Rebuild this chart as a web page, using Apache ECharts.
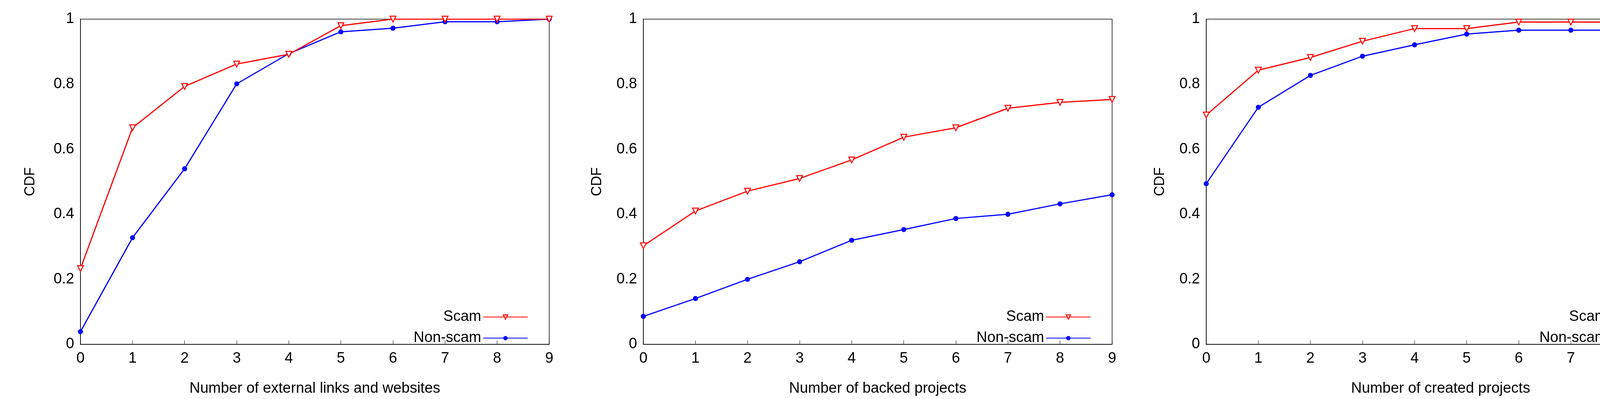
<!DOCTYPE html>
<html><head><meta charset="utf-8">
<script src="https://cdn.jsdelivr.net/npm/echarts@6/dist/echarts.min.js"></script>
<style>html,body{margin:0;padding:0;background:#fff}#c{width:4317px;height:1022px}</style>
</head><body><div id="c"></div>
<script>
const xCats = ['0','1','2','3','4','5','6','7','8','9'];
const yTicks = [0, 0.2, 0.4, 0.6, 0.8, 1];
const xTitles = ['Number of external links and websites','Number of backed projects','Number of created projects'];
const scam1 = [0.233,0.666,0.793,0.862,0.892,0.980,1,1,1,1];
const nonscam1 = [0.039,0.328,0.540,0.801,0.894,0.961,0.972,0.992,0.992,1];
const scam2 = [0.303,0.410,0.471,0.510,0.567,0.637,0.666,0.726,0.744,0.753];
const nonscam2 = [0.086,0.141,0.200,0.254,0.320,0.353,0.387,0.400,0.432,0.460];
const scam3 = [0.705,0.843,0.882,0.932,0.971,0.971,0.991,0.991,0.991,1];
const nonscam3 = [0.494,0.729,0.827,0.886,0.921,0.954,0.966,0.966,0.966,1];
const scams=[scam1,scam2,scam3], nons=[nonscam1,nonscam2,nonscam3];
const lefts=[206,1647,3088], W=1200, gTop=49, H=833;
const narrow='"Liberation Sans Narrow", "Liberation Sans", sans-serif';
const grid=[],xAxis=[],yAxis=[],series=[],legend=[];
for(let i=0;i<3;i++){
  grid.push({left:lefts[i],top:gTop,width:W,height:H,show:true,borderColor:'#000',borderWidth:1.5});
  xAxis.push({type:'category',data:xCats,gridIndex:i,boundaryGap:false,
    axisLine:{lineStyle:{color:'#000',width:1.5}},axisTick:{inside:true,length:10,lineStyle:{color:'#000'}},
    axisLabel:{color:'#000',fontSize:38,fontFamily:narrow,margin:18},
    name:xTitles[i],nameLocation:'middle',nameGap:95,nameTextStyle:{color:'#000',fontSize:38,fontFamily:narrow}});
  yAxis.push({type:'value',gridIndex:i,min:0,max:1,interval:0.2,splitLine:{show:false},
    axisLine:{show:true,lineStyle:{color:'#000',width:1.5}},axisTick:{inside:true,length:10,lineStyle:{color:'#000'}},
    axisLabel:{color:'#000',fontSize:38,fontFamily:narrow,margin:16,formatter:v=>String(+v.toFixed(1))},
    name:'CDF',nameLocation:'middle',nameGap:i==0?110:100,nameTextStyle:{color:'#000',fontSize:36,fontFamily:'"Liberation Sans", Arial, sans-serif'}});
  yAxis.push({type:'value',gridIndex:i,min:0,max:1,interval:0.2,position:'right',splitLine:{show:false},
    axisLine:{show:false},axisTick:{inside:true,length:10,lineStyle:{color:'#000'}},axisLabel:{show:false}});
  series.push({name:'Scam',type:'line',xAxisIndex:i,yAxisIndex:2*i,data:scams[i],
    lineStyle:{color:'#ff0000',width:3},itemStyle:{color:'#fff',borderColor:'#ff0000',borderWidth:2.5},
    symbol:'triangle',symbolRotate:180,symbolSize:15,showAllSymbol:true,z:3});
  series.push({name:'Non-scam',type:'line',xAxisIndex:i,yAxisIndex:2*i,data:nons[i],
    lineStyle:{color:'#0000ff',width:3},itemStyle:{color:'#0000ff'},
    symbol:'circle',symbolSize:13,showAllSymbol:true,z:2});
  legend.push({data:[{name:'Scam',itemStyle:{color:'#fff',borderColor:'#ff0000',borderWidth:2.5}},{name:'Non-scam',itemStyle:{color:'#0000ff'}}],
    orient:'vertical',align:'right',right:4317-(lefts[i]+W-49),top:788,itemWidth:114,itemHeight:14,itemGap:16,
    textStyle:{color:'#000',fontSize:38,fontFamily:narrow},selectedMode:false});
}
const chart=echarts.init(document.getElementById('c'));
chart.setOption({animation:false,grid,xAxis,yAxis,series,legend});
</script></body></html>
